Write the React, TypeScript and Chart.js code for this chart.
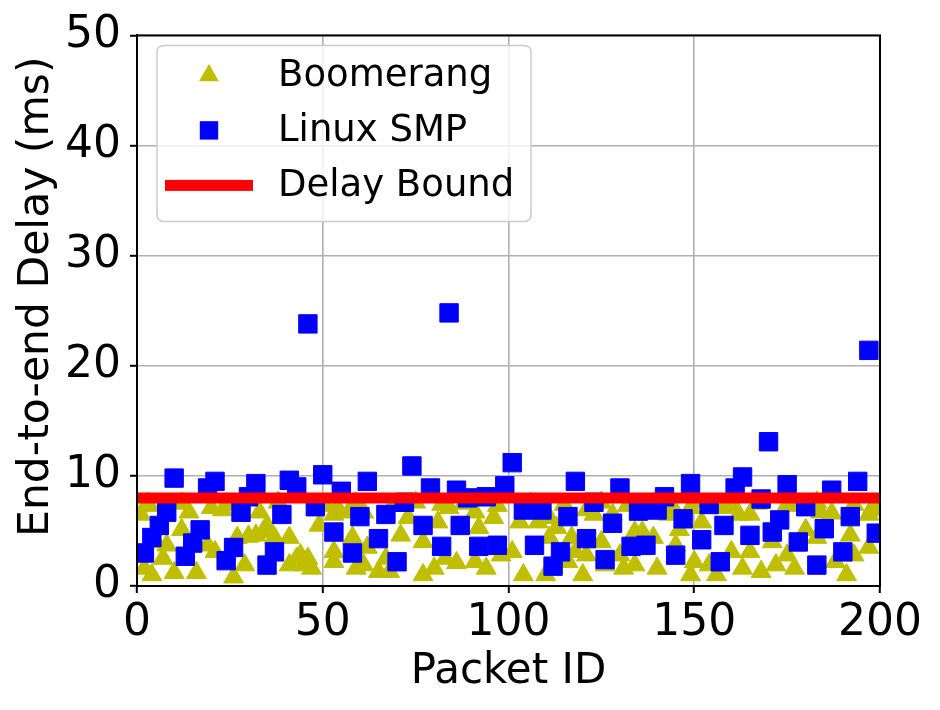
import React, { useEffect, useRef } from 'react';
import { Chart, registerables } from 'chart.js';

Chart.register(...registerables);

// ---- data ----
const boomerangIds = [
  1, 2, 3, 4, 5, 7, 8, 10, 12, 14, 16, 19, 20, 21, 23, 26, 27, 29, 30,
  32, 33, 34, 35, 37, 41, 41, 43, 44, 45, 46, 47, 49, 53, 53, 53, 54, 57, 58, 59, 61, 61, 62, 65,
  67, 68, 71, 73, 77, 77, 80, 81, 82, 83, 84, 86, 91, 91, 92, 94, 96, 98,
  101, 103, 104, 108, 110, 111, 111, 113, 116, 117, 118, 120, 121, 121, 123, 125, 126, 128, 130, 131,
  134, 134, 136, 139, 140, 143, 145, 146, 149, 149, 150, 152, 154, 156, 158, 160, 162, 163, 165, 165,
  168, 171, 172, 175, 175, 177, 180, 183, 184, 187, 188, 191, 192, 193, 197, 197, 198, 199,
  3, 12, 25, 38, 51, 59, 69, 75, 88, 97, 106, 115, 125, 132, 139, 144, 151, 160, 167, 178, 183, 193,
];
const boomerangDelay = [
  6.5, 1.6, 7.3, 1.0, 4.0, 2.5, 3.7, 1.2, 5.1, 6.7, 1.2, 3.7, 7.1, 3.1, 6.9, 0.8, 4.4, 1.9, 4.5,
  4.6, 6.7, 4.9, 5.5, 4.4, 1.9, 4.4, 2.5, 2.8, 1.9, 2.5, 1.6, 5.5, 3.1, 6.5, 2.2, 7.1, 6.7, 4.4, 1.6, 6.7, 1.9, 3.5, 1.3,
  2.5, 1.3, 4.6, 6.2, 4.0, 1.0, 1.6, 5.8, 7.4, 2.5, 7.1, 2.1, 2.2, 6.7, 5.3, 1.6, 6.2, 2.8,
  3.1, 5.8, 1.0, 5.8, 1.0, 6.2, 4.4, 5.3, 2.2, 4.4, 3.1, 1.0, 2.8, 6.9, 6.5, 4.0, 1.9, 6.5, 2.8, 1.6,
  1.9, 4.9, 4.9, 4.4, 1.6, 6.5, 3.7, 5.1, 7.1, 1.0, 2.2, 5.8, 1.9, 1.0, 7.1, 3.1, 6.5, 1.6, 6.5, 3.1,
  1.3, 4.0, 1.9, 2.8, 7.4, 1.6, 5.1, 4.4, 6.7, 6.6, 2.2, 1.0, 4.6, 2.8, 6.5, 3.5, 7.1, 6.9,
  7.5, 7.5, 7.4, 7.6, 7.3, 7.5, 7.4, 7.6, 7.5, 7.3, 7.5, 7.4, 7.6, 7.3, 7.5, 7.3, 7.6, 7.4, 7.5, 7.3, 7.6, 7.4,
];

const smpIds = [
  2, 4, 6, 8, 10, 13, 15, 17, 19, 21, 24, 26, 28, 30, 32, 35, 37, 39, 41, 43,
  46, 48, 50, 53, 55, 58, 60, 62, 65, 67, 70, 72, 74, 77, 79, 82, 84, 86, 87, 89,
  92, 94, 97, 99, 101, 104, 107, 109, 112, 114, 116, 118, 121, 123, 126, 128, 130, 133, 135, 137,
  140, 142, 145, 147, 149, 152, 154, 157, 158, 161, 163, 165, 168, 170, 171, 173, 175, 178, 180, 183,
  185, 187, 190, 192, 194, 197, 199,
];
const smpDelay = [
  3.0, 4.4, 5.5, 6.7, 9.8, 2.7, 3.9, 5.1, 8.9, 9.5, 2.3, 3.5, 6.7, 8.1, 9.3, 1.9, 3.1, 6.5, 9.6, 9.0,
  23.8, 7.2, 10.1, 4.9, 8.6, 3.0, 6.3, 9.5, 4.3, 6.5, 2.2, 7.6, 10.9, 5.5, 8.9, 3.6, 24.8, 8.7, 5.5, 8.0,
  3.6, 8.1, 3.7, 9.1, 11.2, 6.9, 3.7, 6.9, 1.8, 3.1, 6.3, 9.5, 4.3, 7.6, 2.4, 5.7, 8.9, 3.6, 6.8, 3.7,
  6.9, 8.1, 2.8, 6.1, 9.3, 4.2, 7.4, 2.2, 5.5, 8.9, 9.9, 4.6, 7.9, 13.1, 4.9, 6.0, 9.2, 4.0, 7.2, 1.9,
  5.2, 8.7, 3.1, 6.3, 9.5, 21.4, 4.8,
];

const boundIds = [0, 200];
const boundDelay = [8, 8];

const xTickValues = [0, 50, 100, 150, 200];
const yTickValues = [0, 10, 20, 30, 40, 50];

const seriesLabels = ['Boomerang', 'Linux SMP', 'Delay Bound'];
const xTitle = 'Packet ID';
const yTitle = 'End-to-end Delay (ms)';

const YELLOW = '#bfbf00';
const BLUE = '#0000ff';
const RED = '#ff0000';
const FONT = '"DejaVu Sans", "Liberation Sans", sans-serif';

const toPoints = (xs: number[], ys: number[]) => xs.map((x, i) => ({ x, y: ys[i] }));

const framePlugin = {
  id: 'frame',
  afterDatasetsDraw(chart: any) {
    const { ctx, chartArea: a } = chart;
    ctx.save();
    ctx.strokeStyle = '#000';
    ctx.lineWidth = 2;
    ctx.strokeRect(a.left, a.top, a.right - a.left, a.bottom - a.top);
    ctx.restore();
  },
};

const titlesPlugin = {
  id: 'axisTitles',
  afterDraw(chart: any) {
    const { ctx, chartArea: a } = chart;
    ctx.save();
    ctx.fillStyle = '#000';
    ctx.textAlign = 'center';
    ctx.textBaseline = 'alphabetic';
    ctx.font = `42px ${FONT}`;
    ctx.fillText(xTitle, (a.left + a.right) / 2, a.bottom + 97);
    ctx.translate(a.left - 89, (a.top + a.bottom) / 2 - 14);
    ctx.rotate(-Math.PI / 2);
    ctx.font = `42.5px ${FONT}`;
    ctx.fillText(yTitle, 0, 0);
    ctx.restore();
  },
};

const legendPlugin = {
  id: 'boxLegend',
  afterDraw(chart: any) {
    const { ctx, chartArea: a } = chart;
    const bx = a.left + 20;
    const by = a.top + 10;
    const bw = 374;
    const bh = 176;
    const r = 7;
    ctx.save();
    ctx.beginPath();
    ctx.moveTo(bx + r, by);
    ctx.lineTo(bx + bw - r, by);
    ctx.quadraticCurveTo(bx + bw, by, bx + bw, by + r);
    ctx.lineTo(bx + bw, by + bh - r);
    ctx.quadraticCurveTo(bx + bw, by + bh, bx + bw - r, by + bh);
    ctx.lineTo(bx + r, by + bh);
    ctx.quadraticCurveTo(bx, by + bh, bx, by + bh - r);
    ctx.lineTo(bx, by + r);
    ctx.quadraticCurveTo(bx, by, bx + r, by);
    ctx.closePath();
    ctx.fillStyle = 'rgba(255,255,255,0.8)';
    ctx.fill();
    ctx.strokeStyle = '#cccccc';
    ctx.lineWidth = 1.5;
    ctx.stroke();

    const mx = bx + 52;
    const rows = [by + 30, by + 85, by + 140];
    const tr = 11.5;
    ctx.fillStyle = YELLOW;
    ctx.beginPath();
    ctx.moveTo(mx, rows[0] - tr);
    ctx.lineTo(mx + tr * Math.sin((2 * Math.PI) / 3), rows[0] + tr / 2);
    ctx.lineTo(mx - tr * Math.sin((2 * Math.PI) / 3), rows[0] + tr / 2);
    ctx.closePath();
    ctx.fill();
    ctx.fillStyle = BLUE;
    ctx.fillRect(mx - 9.2, rows[1] - 9.2, 18.4, 18.4);
    ctx.fillStyle = RED;
    ctx.fillRect(bx + 8, rows[2] - 5.5, 88, 11);

    ctx.fillStyle = '#000';
    ctx.font = `37px ${FONT}`;
    ctx.textBaseline = 'middle';
    ctx.textAlign = 'left';
    seriesLabels.forEach((t, i) => ctx.fillText(t, bx + 121, rows[i] + 1));
    ctx.restore();
  },
};

export default function App() {
  const ref = useRef<HTMLCanvasElement | null>(null);

  useEffect(() => {
    if (!ref.current) return;
    const chart = new Chart(ref.current, {
      type: 'scatter',
      data: {
        datasets: [
          {
            label: seriesLabels[2],
            data: toPoints(boundIds, boundDelay),
            showLine: true,
            borderColor: RED,
            backgroundColor: RED,
            borderWidth: 11,
            borderCapStyle: 'butt',
            pointRadius: 0,
            order: 0,
            clip: 0,
          } as any,
          {
            label: seriesLabels[1],
            data: toPoints(smpIds, smpDelay),
            pointStyle: 'rect',
            pointRadius: 13,
            backgroundColor: BLUE,
            borderColor: BLUE,
            borderWidth: 1,
            order: 1,
            clip: 0,
          } as any,
          {
            label: seriesLabels[0],
            data: toPoints(boomerangIds, boomerangDelay),
            pointStyle: 'triangle',
            pointRadius: 11.5,
            backgroundColor: YELLOW,
            borderColor: YELLOW,
            borderWidth: 1,
            order: 2,
            clip: 0,
          } as any,
        ],
      },
      options: {
        responsive: false,
        animation: false,
        devicePixelRatio: 1,
        layout: { padding: { top: 33, right: 60, left: 0, bottom: 0 } },
        plugins: {
          legend: { display: false },
          tooltip: { enabled: false },
        },
        scales: {
          x: {
            type: 'linear',
            min: 0,
            max: 200,
            afterBuildTicks: (s: any) => {
              s.ticks = xTickValues.map((v) => ({ value: v }));
            },
            afterFit: (s: any) => {
              s.height = 124;
            },
            ticks: {
              color: '#000',
              font: { family: FONT, size: 44 },
              padding: 4,
              maxRotation: 0,
            },
            grid: {
              color: '#b0b0b0',
              lineWidth: 1.6,
              tickLength: 7,
              tickColor: '#000',
              tickWidth: 2,
            },
            border: { color: '#000', width: 2 },
            title: { display: false, text: xTitle },
          },
          y: {
            type: 'linear',
            min: 0,
            max: 50,
            afterBuildTicks: (s: any) => {
              s.ticks = yTickValues.map((v) => ({ value: v }));
            },
            afterFit: (s: any) => {
              s.width = 137;
            },
            ticks: {
              color: '#000',
              font: { family: FONT, size: 44 },
              padding: 9,
            },
            grid: {
              color: '#b0b0b0',
              lineWidth: 1.6,
              tickLength: 7,
              tickColor: '#000',
              tickWidth: 2,
            },
            border: { color: '#000', width: 2 },
            title: { display: false, text: yTitle },
          },
        },
      },
      plugins: [framePlugin, titlesPlugin, legendPlugin],
    } as any);
    return () => chart.destroy();
  }, []);

  return (
    <div style={{ position: 'absolute', left: 0, top: 0, width: 940, height: 710, background: '#fff' }}>
      <canvas ref={ref} width={940} height={710} style={{ display: 'block' }} />
    </div>
  );
}
